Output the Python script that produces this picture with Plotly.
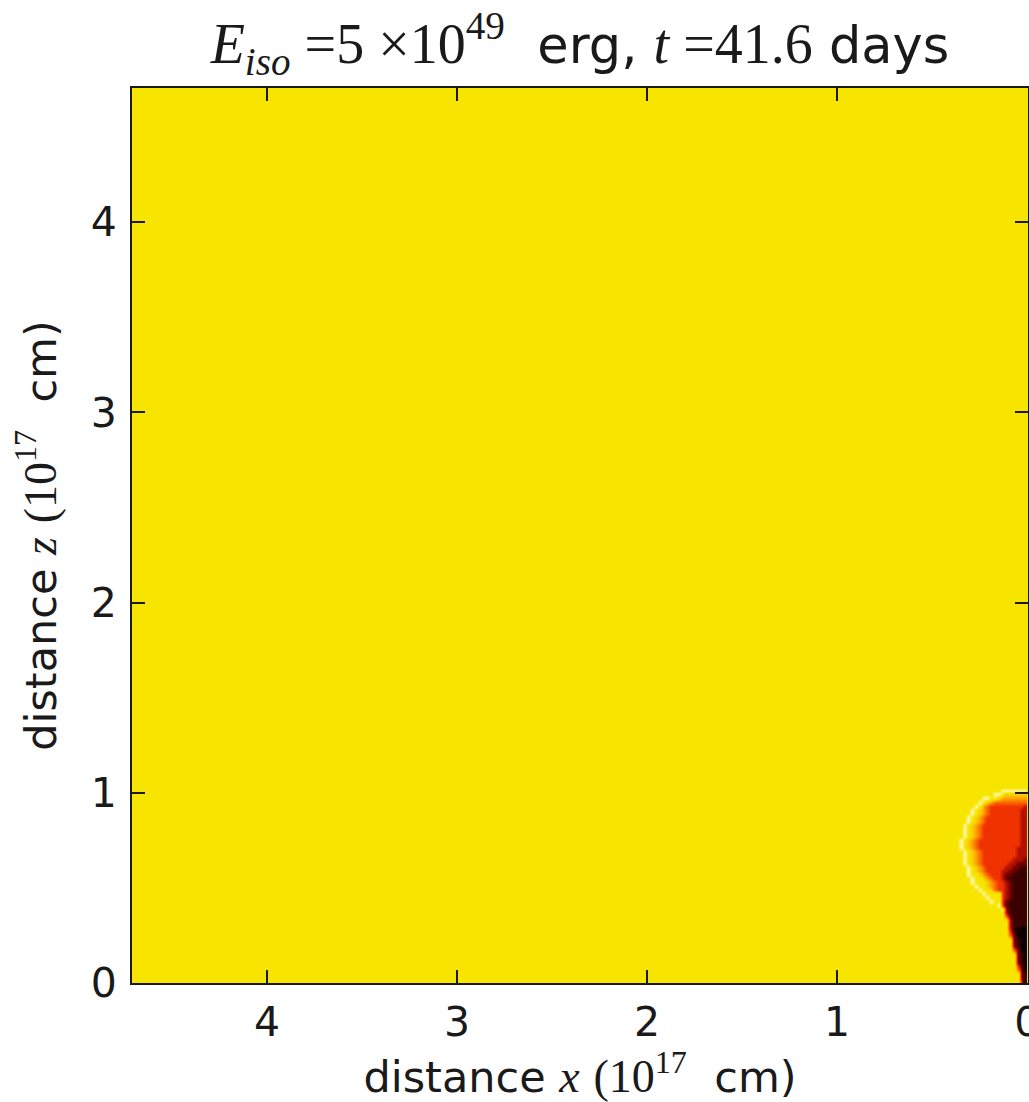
import plotly.graph_objects as go

# Density field near the jet head, coded as colour levels 0 (lowest) .. 9 (shock rim).
# Each string is one row of cells (dz = 0.02), listed from the top (z = 1.05) down to z = 0.01;
# characters run from x = 0.37 on the left to x = 0.01 on the right (x axis is reversed).
field_rows = [
    "8888888888888888888",
    "8888888888888888888",
    "8888888888889999999",
    "8888888888998777777",
    "8888888998876666666",
    "8888889876555555555",
    "8888898654444444443",
    "8888987654444444433",
    "8888987654444444433",
    "8889876544444444433",
    "8889876544444444433",
    "8898765444444444433",
    "8898765444444444433",
    "8898765444444444433",
    "8898765444444444433",
    "8987654444444444433",
    "8987654444444444433",
    "8987654444444444333",
    "8898765444444444333",
    "8898765444444444333",
    "8898765444444443332",
    "8898765444444433222",
    "8889876544444332211",
    "8889876544443322111",
    "8889887654443221111",
    "8888988765443211111",
    "8888988876544321111",
    "8888898876544321111",
    "8888889887544321111",
    "8888888988884321111",
    "8888888898884321111",
    "8888888889884211111",
    "8888888888894211111",
    "8888888888889311111",
    "8888888888888311111",
    "8888888888888521111",
    "8888888888888831111",
    "8888888888888831111",
    "8888888888888831000",
    "8888888888888841000",
    "8888888888888852000",
    "8888888888888882100",
    "8888888888888882100",
    "8888888888888883100",
    "8888888888888885200",
    "8888888888888888210",
    "8888888888888888210",
    "8888888888888888210",
    "8888888888888888410",
    "8888888888888888520",
    "8888888888888888821",
    "8888888888888888821",
    "8888888888888888831",
]

# Cell geometry of the field (units of 1e17 cm)
cell_size = 0.02
first_cell_centre = 0.01

# Colour of each level, from the evacuated jet core to the bright shock rim
level_colours = [
    "rgb(12,0,0)",
    "rgb(58,0,0)",
    "rgb(112,0,0)",
    "rgb(180,16,0)",
    "rgb(240,50,0)",
    "rgb(251,100,0)",
    "rgb(253,158,0)",
    "rgb(250,206,0)",
    "rgb(247,229,0)",
    "rgb(255,249,170)",
]
ambient_level = 8

x_ticks = [0, 1, 2, 3, 4]
z_ticks = [0, 1, 2, 3, 4]
x_range = [4.71, -0.004]
z_range = [0.0, 4.705]

SERIF = "Liberation Serif"
NB = "\u00a0"


def math(s, size=None):
    size_css = f";font-size:{size}px" if size else ""
    return f'<span style="font-family:{SERIF}{size_css}">{s}</span>'


title_text = (math(f"<i>E</i><sub><i>iso</i></sub>{NB}=5{NB}\u00d710<sup>49</sup>", 56)
              + f"{NB}{NB}erg, "
              + math(f"<i>t</i>{NB}=41.6", 56)
              + " days")
x_title = "distance " + math("<i>x</i>", 46) + " " + math("(10<sup>17</sup>", 46) + f"{NB} cm)"
z_title = "distance " + math("<i>z</i>", 46) + " " + math("(10<sup>17</sup>", 46) + f"{NB} cm)"

# Rows bottom-up, columns ordered by increasing x
z_matrix = [[int(ch) for ch in reversed(row)] for row in reversed(field_rows)]

n_levels = len(level_colours)
colorscale = [[k / (n_levels - 1), c] for k, c in enumerate(level_colours)]

fig = go.Figure(
    go.Heatmap(
        z=z_matrix,
        x0=first_cell_centre, dx=cell_size,
        y0=first_cell_centre, dy=cell_size,
        zmin=0, zmax=n_levels - 1,
        colorscale=colorscale,
        zsmooth="best",
        showscale=False,
        hoverinfo="skip",
    )
)

INK = "#1a1a1a"
axis_common = dict(
    ticks="inside",
    ticklen=13,
    tickwidth=1.5,
    tickcolor=INK,
    showline=True,
    linewidth=2,
    linecolor=INK,
    mirror="allticks",
    showgrid=False,
    zeroline=False,
    automargin=False,
    ticklabeloverflow="allow",
    tickfont=dict(family="DejaVu Sans", size=41, color=INK),
)

fig.update_layout(
    width=1029,
    height=1102,
    margin=dict(l=132, r=1, t=88, b=119, autoexpand=False),
    paper_bgcolor="white",
    plot_bgcolor=level_colours[ambient_level],
    title=dict(
        text=title_text,
        x=0.5, xref="paper", xanchor="center",
        y=1, yref="paper", yanchor="bottom",
        pad=dict(b=25),
        font=dict(family="DejaVu Sans", size=51, color=INK),
    ),
    xaxis=dict(
        range=x_range,
        tickvals=x_ticks,
        ticklabelstandoff=2,
        title=dict(text=x_title, font=dict(family="DejaVu Sans", size=43, color=INK), standoff=20),
        **axis_common,
    ),
    yaxis=dict(
        range=z_range,
        tickvals=z_ticks,
        ticklabelstandoff=5,
        title=dict(text=z_title, font=dict(family="DejaVu Sans", size=43, color=INK), standoff=21),
        **axis_common,
    ),
)

fig.write_html("out.html")
